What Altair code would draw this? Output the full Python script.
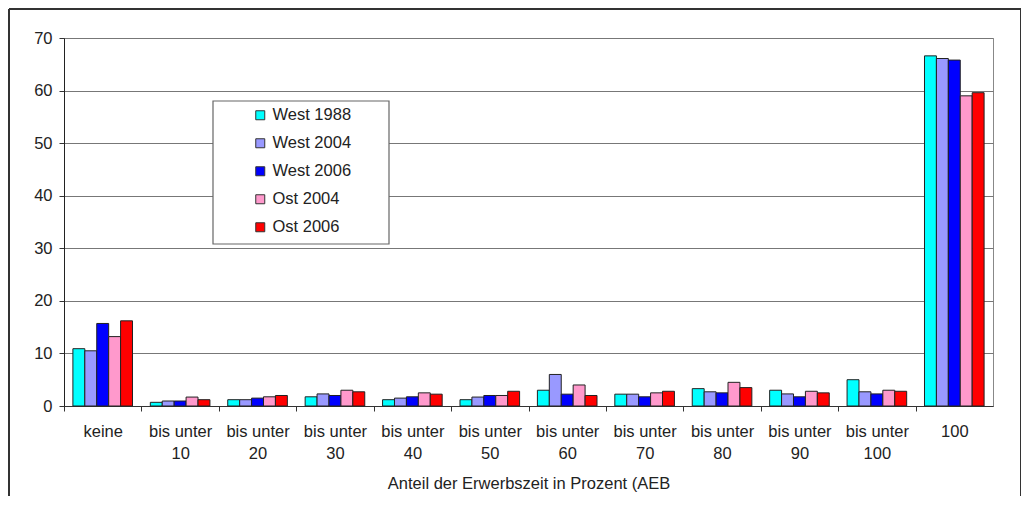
import altair as alt
import pandas as pd

categories = ["keine", "bis unter 10", "bis unter 20", "bis unter 30", "bis unter 40",
              "bis unter 50", "bis unter 60", "bis unter 70", "bis unter 80",
              "bis unter 90", "bis unter 100", "100"]
series_names = ["West 1988", "West 2004", "West 2006", "Ost 2004", "Ost 2006"]
series_colors = ["#00FFFF", "#9999FF", "#0000FF", "#FF99CC", "#FF0000"]

west1988 = [10.9, 0.7, 1.2, 1.75, 1.2, 1.2, 3.0, 2.25, 3.3, 3.0, 5.0, 66.6]
west2004 = [10.5, 0.95, 1.2, 2.3, 1.5, 1.7, 6.0, 2.25, 2.7, 2.3, 2.7, 66.1]
west2006 = [15.7, 0.95, 1.5, 2.0, 1.75, 2.0, 2.25, 1.75, 2.5, 1.75, 2.3, 65.8]
ost2004 = [13.2, 1.7, 1.75, 3.0, 2.5, 2.0, 4.0, 2.5, 4.5, 2.8, 3.0, 59.0]
ost2006 = [16.2, 1.2, 2.0, 2.7, 2.25, 2.8, 2.0, 2.8, 3.5, 2.5, 2.8, 59.6]

y_ticks = [0, 10, 20, 30, 40, 50, 60, 70]
x_title = "Anteil der Erwerbszeit in Prozent (AEB"

values = [west1988, west2004, west2006, ost2004, ost2006]
rows = []
for name, vals in zip(series_names, values):
    for cat, v in zip(categories, vals):
        rows.append({"Kategorie": cat, "Serie": name, "Wert": v})
df = pd.DataFrame(rows)

FONT = "Liberation Sans"
FS = 16.5
W, H = 929, 368

bars = alt.Chart(df).mark_bar(stroke="#222222", strokeWidth=1).encode(
    x=alt.X("Kategorie:N", sort=categories,
            scale=alt.Scale(paddingInner=0.23, paddingOuter=0.115),
            axis=alt.Axis(title=x_title, labelAngle=0, grid=False,
                          labelExpr="indexof(datum.value, 'bis unter ') == 0 ? ['bis unter', substring(datum.value, 10)] : datum.value",
                          labelLineHeight=22.5, labelPadding=12, labelFontSize=FS,
                          labelColor="#222222", labelFont=FONT, labelOffset=8.9,
                          titleFont=FONT, titleFontSize=FS, titleFontWeight="normal",
                          titleColor="#222222", titlePadding=13,
                          bandPosition=0, tickOffset=-8.9, tickSize=5,
                          tickColor="#333333", domainColor="#333333")),
    xOffset=alt.XOffset("Serie:N", sort=series_names),
    y=alt.Y("Wert:Q", scale=alt.Scale(domain=[0, 70], nice=False),
            axis=alt.Axis(title=None, values=y_ticks, grid=True, gridColor="#777777",
                          labelFontSize=FS, labelColor="#222222", labelFont=FONT,
                          labelPadding=7, tickSize=5, tickColor="#333333",
                          domainColor="#222222")),
    color=alt.Color("Serie:N", sort=series_names,
                    scale=alt.Scale(domain=series_names, range=series_colors),
                    legend=alt.Legend(title=None, orient="none", legendX=188, legendY=69,
                                      symbolType="square", symbolSize=81,
                                      symbolStrokeColor="#333333", symbolStrokeWidth=1,
                                      labelFontSize=FS, labelFont=FONT, labelColor="#222222",
                                      labelOffset=4, rowPadding=11, padding=0)),
)

legend_box = alt.Chart(pd.DataFrame({"k": [0]})).mark_rect(
    fill="white", stroke="#666666", strokeWidth=1.2).encode(
    x=alt.value(149), x2=alt.value(325), y=alt.value(63), y2=alt.value(206))

frame_left = alt.Chart(pd.DataFrame({"k": [0]})).mark_rule(color="#333333", strokeWidth=2).encode(
    x=alt.value(-55), y=alt.value(-29), y2=alt.value(460))
frame_top = alt.Chart(pd.DataFrame({"k": [0]})).mark_rule(color="#333333", strokeWidth=2).encode(
    x=alt.value(-55), x2=alt.value(957), y=alt.value(-29))
frame_right = alt.Chart(pd.DataFrame({"k": [0]})).mark_rule(color="#333333", strokeWidth=2).encode(
    x=alt.value(957), y=alt.value(-29), y2=alt.value(460))

chart = alt.layer(bars, legend_box, frame_left, frame_top, frame_right).properties(
    width=W, height=H,
    padding={"left": 56, "top": 30, "right": 28, "bottom": 90},
    autosize=alt.AutoSizeParams(type="none"),
    background="white",
).configure_view(stroke="#888888", strokeWidth=1)

chart.save("out.html", embed_options={"renderer": "svg", "actions": False})
